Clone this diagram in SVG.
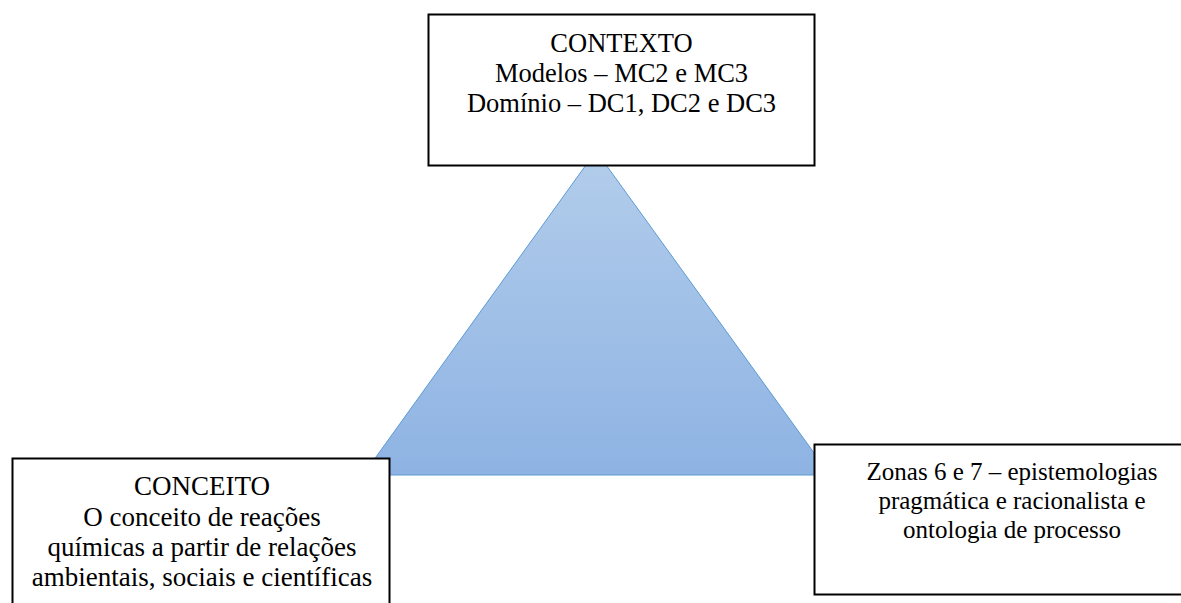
<svg xmlns="http://www.w3.org/2000/svg" width="1181" height="603" viewBox="0 0 1181 603">
<style>
.box{fill:#ffffff;stroke:#000000;stroke-width:2}
.t{font-family:"Liberation Serif","Times New Roman",serif;fill:#000000;text-anchor:middle}
</style>
<defs>
<linearGradient id="tg" x1="0" y1="0" x2="0" y2="1">
<stop offset="0" stop-color="#b3cdeb"/>
<stop offset="1" stop-color="#8eb3e3"/>
</linearGradient>
</defs>
<rect width="1181" height="603" fill="#ffffff"/>
<g id="connectors">
<polygon points="596,151 830,475 363,475" fill="url(#tg)" stroke="#5b9bd5" stroke-width="1"/>
</g>
<g id="contexto">
<rect class="box" x="428.5" y="14.5" width="386" height="151"/>
<text class="t" font-size="26.5" x="621.5" y="52">CONTEXTO</text>
<text class="t" font-size="26.5" x="621.5" y="82">Modelos – MC2 e MC3</text>
<text class="t" font-size="26.5" x="621.5" y="112">Domínio – DC1, DC2 e DC3</text>
</g>
<g id="conceito">
<rect class="box" x="12.5" y="458.5" width="377" height="160"/>
<text class="t" font-size="27" x="202" y="495">CONCEITO</text>
<text class="t" font-size="27" x="202" y="526">O conceito de reações</text>
<text class="t" font-size="27" x="202" y="556">químicas a partir de relações</text>
<text class="t" font-size="27" x="202" y="586">ambientais, sociais e científicas</text>
</g>
<g id="zonas">
<rect class="box" x="814.5" y="444.5" width="400" height="150"/>
<text class="t" font-size="25" x="1012" y="480">Zonas 6 e 7 – epistemologias</text>
<text class="t" font-size="25" x="1012" y="509">pragmática e racionalista e</text>
<text class="t" font-size="25" x="1012" y="538">ontologia de processo</text>
</g>
</svg>
